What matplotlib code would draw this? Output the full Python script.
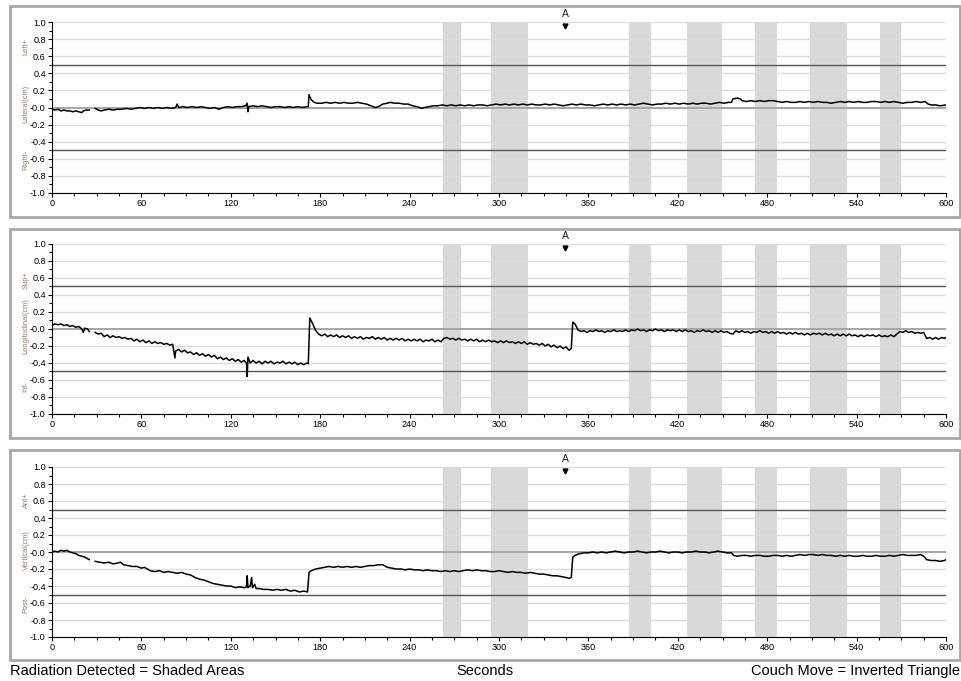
import numpy as np
import matplotlib
matplotlib.use("Agg")
import matplotlib.pyplot as plt
from matplotlib.patches import Rectangle
from matplotlib.ticker import MultipleLocator
from matplotlib.transforms import blended_transform_factory

plt.rcParams['font.family'] = ['Liberation Sans', 'DejaVu Sans']

nan = np.nan

# radiation on (shaded areas), seconds
beam_on = [(262.5, 274.5), (294.5, 319.5), (387, 402), (426, 449.5),
           (472, 486.5), (508.5, 533.5), (555.5, 570)]
couch_moves = [(344.3, "A")]

# ---- Lateral (cm)
lat_t = [0, 2, 4, 6, 8, 10, 12, 14, 16, 18, 20, 21, 23, 25, 26,
         29, 31, 33, 35, 38, 41, 44, 47, 50, 53, 56, 59, 62, 65, 68, 71, 74, 77, 80, 83, 84, 85,
         88, 91, 94, 97, 100, 103, 106, 109, 112, 115, 118, 121, 124, 127, 130, 131, 131.5, 132,
         135, 138, 141, 144, 147, 150, 153, 156, 159, 162, 165, 168, 171, 172, 172.5, 174, 176, 178,
         181, 184, 187, 190, 193, 196, 199, 202, 205, 208, 211, 214, 217, 219, 222, 225, 227, 230,
         233, 236, 239, 242, 245, 248, 250, 253, 256, 259, 262, 265, 268, 271, 274, 277, 280, 283,
         286, 289, 292, 295, 298, 301, 304, 307, 310, 313, 316, 319, 322, 325, 328, 331, 334, 337,
         340, 343, 346, 349, 352, 355, 358, 361, 364, 367, 370, 373, 376, 379, 382, 385, 388, 391,
         394, 397, 400, 403, 406, 409, 412, 415, 418, 421, 424, 427, 430, 433, 436, 439, 442, 445,
         448, 451, 454, 456, 457, 460, 462, 463, 466, 469, 472, 475, 478, 481, 484, 487, 490, 493,
         496, 499, 502, 505, 508, 511, 514, 517, 520, 523, 526, 529, 532, 535, 538, 541, 544, 547,
         550, 553, 556, 559, 562, 565, 568, 571, 574, 577, 580, 583, 586, 588, 590, 593, 596, 600]
lat_v = [-0.02, -0.03, -0.02, -0.04, -0.03, -0.04, -0.04, -0.05, -0.04, -0.05, -0.06, -0.04, -0.03, -0.03, nan,
         -0.01, -0.03, -0.04, -0.03, -0.02, -0.03, -0.02, -0.02, -0.01, -0.02, -0.01, 0.00, -0.01, 0.00, -0.01, 0.00, -0.01, 0.00, -0.01, 0.00, 0.04, 0.00,
         0.01, 0.00, 0.01, 0.00, 0.01, 0.00, -0.01, 0.00, -0.02, 0.00, 0.01, 0.00, 0.01, 0.01, 0.02, 0.05, -0.05, 0.01,
         0.02, 0.01, 0.02, 0.01, 0.00, 0.01, 0.01, 0.00, 0.01, 0.00, 0.01, 0.00, 0.01, 0.01, 0.15, 0.09, 0.06, 0.05,
         0.05, 0.06, 0.05, 0.06, 0.05, 0.06, 0.05, 0.05, 0.06, 0.05, 0.04, 0.02, 0.00, 0.01, 0.04, 0.05, 0.06, 0.05,
         0.05, 0.04, 0.04, 0.02, 0.01, -0.01, 0.00, 0.01, 0.02, 0.02, 0.03, 0.02, 0.03, 0.02, 0.03, 0.02, 0.03, 0.02,
         0.03, 0.03, 0.02, 0.03, 0.04, 0.03, 0.04, 0.03, 0.04, 0.03, 0.04, 0.03, 0.04, 0.03, 0.03, 0.04, 0.03, 0.04,
         0.03, 0.02, 0.03, 0.04, 0.03, 0.04, 0.03, 0.03, 0.02, 0.03, 0.04, 0.03, 0.04, 0.03, 0.04, 0.03, 0.04, 0.03,
         0.04, 0.05, 0.04, 0.03, 0.04, 0.04, 0.05, 0.04, 0.05, 0.04, 0.05, 0.04, 0.05, 0.04, 0.05, 0.05, 0.04, 0.05,
         0.06, 0.05, 0.06, 0.06, 0.10, 0.11, 0.10, 0.08, 0.07, 0.08, 0.07, 0.08, 0.07, 0.08, 0.08, 0.07, 0.06, 0.07,
         0.06, 0.06, 0.07, 0.06, 0.07, 0.06, 0.07, 0.06, 0.06, 0.05, 0.06, 0.07, 0.06, 0.07, 0.06, 0.07, 0.06, 0.06,
         0.07, 0.07, 0.06, 0.07, 0.06, 0.07, 0.06, 0.05, 0.06, 0.06, 0.07, 0.06, 0.07, 0.04, 0.03, 0.03, 0.02, 0.03]

# ---- Longitudinal (cm)
lng_t = [0, 2, 4, 6, 8, 10, 12, 14, 16, 18, 20, 21, 22, 24, 25, 26,
         29, 31, 33, 35, 37, 39, 41, 43, 45, 47, 49, 51, 53, 55, 57, 59, 61, 63, 65, 67, 69, 71,
         73, 75, 77, 79, 81, 82.5, 83, 85, 87, 89, 91, 93, 95, 97, 99, 101, 103, 105, 107, 109,
         111, 113, 115, 117, 119, 121, 123, 125, 127, 129, 130.5, 131, 131.5, 133, 135, 137, 139,
         141, 143, 145, 147, 149, 151, 153, 155, 157, 159, 161, 163, 165, 167, 169, 171, 172, 173,
         175, 177, 179, 181, 183, 185, 187, 189, 191, 193, 195, 197, 199, 201, 203, 205, 207, 209,
         211, 213, 215, 217, 219, 221, 223, 225, 227, 229, 231, 233, 235, 237, 239, 241, 243, 245,
         247, 249, 251, 253, 255, 257, 259, 261, 263, 265, 267, 269, 271, 273, 275, 277, 279, 281,
         283, 285, 287, 289, 291, 293, 295, 297, 299, 301, 303, 305, 307, 309, 311, 313, 315, 317,
         319, 321, 323, 325, 327, 329, 331, 333, 335, 337, 339, 341, 343, 345, 347, 348.5, 349.5,
         351, 353, 355, 357, 359, 361, 363, 365, 367, 369, 371, 373, 375, 377, 379, 381, 383, 385,
         387, 389, 391, 393, 395, 397, 399, 401, 403, 405, 407, 409, 411, 413, 415, 417, 419, 421,
         423, 425, 427, 429, 431, 433, 435, 437, 439, 441, 443, 445, 447, 449, 451, 453, 455, 457,
         459, 461, 463, 465, 467, 469, 471, 473, 475, 477, 479, 481, 483, 485, 487, 489, 491, 493,
         495, 497, 499, 501, 503, 505, 507, 509, 511, 513, 515, 517, 519, 521, 523, 525, 527, 529,
         531, 533, 535, 537, 539, 541, 543, 545, 547, 549, 551, 553, 555, 557, 559, 561, 563, 565,
         567, 569, 571, 573, 575, 577, 579, 581, 583, 585, 587, 589, 591, 593, 595, 597, 599, 600]
lng_v = [0.04, 0.06, 0.05, 0.06, 0.04, 0.05, 0.03, 0.04, 0.02, 0.03, 0.00, -0.04, 0.01, 0.00, -0.03, nan,
         -0.04, -0.06, -0.05, -0.09, -0.07, -0.10, -0.08, -0.10, -0.09, -0.11, -0.10, -0.12, -0.11, -0.14, -0.12, -0.15, -0.13, -0.16, -0.14, -0.17, -0.15, -0.17,
         -0.16, -0.18, -0.17, -0.19, -0.18, -0.34, -0.26, -0.24, -0.27, -0.25, -0.28, -0.27, -0.30, -0.28, -0.31, -0.29, -0.32, -0.30, -0.33, -0.31,
         -0.35, -0.33, -0.36, -0.34, -0.37, -0.35, -0.38, -0.36, -0.39, -0.37, -0.40, -0.56, -0.33, -0.40, -0.37, -0.40, -0.38,
         -0.41, -0.38, -0.40, -0.38, -0.41, -0.39, -0.40, -0.38, -0.41, -0.39, -0.41, -0.39, -0.42, -0.40, -0.42, -0.40, -0.41, 0.13,
         0.06, -0.02, -0.06, -0.08, -0.06, -0.09, -0.07, -0.09, -0.07, -0.10, -0.08, -0.10, -0.08, -0.11, -0.09, -0.11, -0.09, -0.12,
         -0.10, -0.11, -0.09, -0.12, -0.10, -0.12, -0.10, -0.13, -0.11, -0.13, -0.11, -0.13, -0.11, -0.14, -0.12, -0.14, -0.12, -0.14,
         -0.12, -0.15, -0.13, -0.14, -0.12, -0.15, -0.13, -0.15, -0.11, -0.10, -0.12, -0.11, -0.13, -0.11, -0.13, -0.12, -0.14, -0.12,
         -0.14, -0.12, -0.15, -0.13, -0.15, -0.13, -0.15, -0.14, -0.16, -0.14, -0.16, -0.14, -0.16, -0.15, -0.17, -0.15, -0.17, -0.15,
         -0.18, -0.16, -0.18, -0.17, -0.19, -0.17, -0.20, -0.18, -0.21, -0.19, -0.22, -0.20, -0.23, -0.21, -0.25, -0.23, 0.08,
         0.06, -0.01, -0.03, -0.02, -0.04, -0.02, -0.03, -0.01, -0.03, -0.02, -0.04, -0.02, -0.03, -0.01, -0.03, -0.02, -0.03, -0.01,
         -0.03, -0.01, -0.02, 0.00, -0.02, -0.01, -0.03, -0.01, -0.02, 0.00, -0.02, -0.01, -0.03, -0.01, -0.02, -0.01, -0.03, -0.01,
         -0.03, -0.01, -0.03, -0.02, -0.04, -0.02, -0.03, -0.01, -0.03, -0.02, -0.04, -0.02, -0.04, -0.02, -0.04, -0.03, -0.05, -0.06,
         -0.02, -0.04, -0.02, -0.04, -0.03, -0.05, -0.03, -0.04, -0.02, -0.04, -0.03, -0.05, -0.03, -0.05, -0.03, -0.05, -0.04, -0.06,
         -0.04, -0.06, -0.04, -0.06, -0.05, -0.07, -0.05, -0.07, -0.05, -0.06, -0.05, -0.07, -0.05, -0.07, -0.06, -0.08, -0.06, -0.08,
         -0.06, -0.08, -0.06, -0.08, -0.07, -0.09, -0.07, -0.09, -0.07, -0.08, -0.07, -0.09, -0.07, -0.09, -0.08, -0.09, -0.07, -0.09,
         -0.06, -0.03, -0.04, -0.02, -0.04, -0.03, -0.05, -0.04, -0.05, -0.04, -0.11, -0.10, -0.12, -0.10, -0.12, -0.10, -0.11, -0.10]

# ---- Vertical (cm)
vrt_t = [0, 2, 4, 6, 8, 10, 12, 14, 16, 18, 20, 22, 24, 25, 26,
         29, 32, 35, 38, 41, 44, 46, 48, 51, 54, 57, 60, 62, 64, 66, 69, 72, 75, 78, 81, 84, 87,
         90, 93, 96, 99, 102, 105, 108, 111, 114, 117, 120, 123, 126, 129, 130.5, 131, 131.5, 133,
         134, 134.5, 136, 137, 139, 142, 145, 148, 151, 154, 157, 160, 163, 166, 169, 171.5, 172.5,
         174, 177, 180, 183, 186, 189, 192, 195, 198, 201, 204, 207, 210, 213, 216, 219, 222, 225,
         228, 231, 234, 237, 240, 243, 246, 249, 252, 255, 258, 261, 264, 267, 270, 273, 276, 279,
         282, 285, 288, 291, 294, 297, 300, 303, 306, 309, 312, 315, 318, 321, 324, 327, 330, 333,
         336, 339, 342, 345, 347, 348.5, 349.5, 351, 354, 357, 360, 363, 366, 369, 372, 375, 378,
         381, 384, 387, 390, 393, 396, 399, 402, 405, 408, 411, 414, 417, 420, 423, 426, 429, 432,
         435, 438, 441, 444, 447, 450, 453, 456, 457.5, 460, 463, 466, 469, 472, 475, 478, 481, 484,
         487, 490, 493, 496, 499, 502, 505, 508, 511, 514, 517, 520, 523, 526, 529, 532, 535, 538,
         541, 544, 547, 550, 553, 556, 559, 562, 565, 568, 571, 574, 577, 580, 583, 585, 587, 590,
         593, 596, 599, 600]
vrt_v = [0.00, 0.01, 0.00, 0.02, 0.01, 0.02, 0.00, -0.01, -0.02, -0.04, -0.05, -0.06, -0.08, -0.09, nan,
         -0.11, -0.12, -0.13, -0.12, -0.14, -0.13, -0.12, -0.15, -0.16, -0.17, -0.17, -0.19, -0.18, -0.20, -0.22, -0.23, -0.22, -0.24, -0.23, -0.24, -0.25, -0.24,
         -0.26, -0.27, -0.30, -0.32, -0.33, -0.35, -0.37, -0.38, -0.39, -0.40, -0.40, -0.42, -0.41, -0.42, -0.41, -0.28, -0.42, -0.40,
         -0.30, -0.42, -0.38, -0.43, -0.43, -0.44, -0.44, -0.45, -0.44, -0.45, -0.44, -0.46, -0.45, -0.47, -0.46, -0.47, -0.24,
         -0.22, -0.20, -0.19, -0.18, -0.17, -0.18, -0.17, -0.18, -0.17, -0.18, -0.17, -0.18, -0.17, -0.16, -0.16, -0.15, -0.15, -0.18,
         -0.19, -0.20, -0.20, -0.21, -0.20, -0.21, -0.21, -0.22, -0.21, -0.22, -0.22, -0.23, -0.22, -0.23, -0.22, -0.23, -0.22, -0.21,
         -0.22, -0.21, -0.22, -0.22, -0.23, -0.23, -0.22, -0.23, -0.24, -0.23, -0.24, -0.24, -0.25, -0.24, -0.25, -0.26, -0.26, -0.27,
         -0.28, -0.28, -0.29, -0.30, -0.31, -0.30, -0.06, -0.04, -0.02, -0.01, -0.01, 0.00, -0.01, 0.00, -0.01, 0.00, 0.01,
         0.00, -0.01, 0.00, 0.00, 0.01, 0.00, -0.01, 0.00, 0.00, 0.01, 0.00, -0.01, 0.00, 0.00, -0.01, 0.00, 0.00, 0.01,
         0.00, 0.00, -0.01, 0.00, 0.01, 0.00, -0.01, -0.01, -0.04, -0.05, -0.04, -0.04, -0.05, -0.04, -0.04, -0.05, -0.05, -0.04,
         -0.04, -0.05, -0.04, -0.05, -0.04, -0.03, -0.04, -0.03, -0.03, -0.04, -0.03, -0.04, -0.04, -0.05, -0.04, -0.05, -0.04, -0.05,
         -0.05, -0.04, -0.05, -0.05, -0.04, -0.05, -0.05, -0.04, -0.05, -0.04, -0.03, -0.04, -0.04, -0.04, -0.03, -0.05, -0.09, -0.10,
         -0.10, -0.11, -0.10, -0.09]

# name, plus side, minus side, and where each label is centred (cm)
panels = [
    (lat_t, lat_v, ("Lateral(cm)", 0.04), ("Left+", 0.71), ("Right-", -0.61)),
    (lng_t, lng_v, ("Longitudinal(cm)", 0.04), ("Sup+", 0.58), ("Inf-", -0.68)),
    (vrt_t, vrt_v, ("Vertical(cm)", 0.02), ("Ant+", 0.61), ("Post-", -0.61)),
]

W, H = 961, 681
fig = plt.figure(figsize=(W / 100, H / 100), dpi=100)

# pixel geometry of each panel: (box top, box bottom, axes top, axes bottom)
geom = [(6, 217, 22, 193), (229, 438, 244, 414), (450, 660, 467, 637)]
ax_left, ax_right = 52, 946
label_col = "#9a7a5c"
yvals = np.round(np.arange(-1.0, 1.01, 0.2), 1)

for (t, v, name, plus, minus), (bt, bb, at, ab) in zip(panels, geom):
    fig.patches.append(Rectangle((10 / W, 1 - bb / H), 950 / W, (bb - bt) / H,
                                 transform=fig.transFigure, fill=False,
                                 edgecolor="#a8a8a8", lw=2))
    ax = fig.add_axes([ax_left / W, 1 - ab / H, (ax_right - ax_left) / W, (ab - at) / H])
    ax.set_xlim(0, 600)
    ax.set_ylim(-1, 1)
    for a, b in beam_on:
        ax.axvspan(a, b, color="#d9d9d9", lw=0, zorder=0)
    for yy in yvals:
        ax.axhline(yy, color="#dcdcdc", lw=1, zorder=1)
    ax.axhline(0, color="#a6a6a6", lw=1.4, zorder=1)
    ax.axhline(0.5, color="#555555", lw=1, zorder=1)
    ax.axhline(-0.5, color="#555555", lw=1, zorder=1)
    ax.plot(t, v, color="black", lw=1.1, zorder=3)

    for spine in ["top", "right"]:
        ax.spines[spine].set_visible(False)
    ax.spines["left"].set_linewidth(0.8)
    ax.spines["bottom"].set_linewidth(0.8)
    ax.xaxis.set_major_locator(MultipleLocator(60))
    ax.xaxis.set_minor_locator(MultipleLocator(15))
    ax.yaxis.set_minor_locator(MultipleLocator(0.1))
    ax.set_yticks(yvals)
    ax.set_yticklabels([f"{x:.1f}" for x in yvals])
    ax.tick_params(which="major", length=3, width=0.8, labelsize=6.6, pad=1.5)
    ax.tick_params(which="minor", length=2, width=0.8)

    ytr = blended_transform_factory(ax.transAxes, ax.transData)
    for txt, yc in (name, plus, minus):
        ax.text(-26 / 894, yc, txt, transform=ytr, rotation=90, ha="center", va="center",
                fontsize=5.4, color=label_col)

    tr = blended_transform_factory(ax.transData, ax.transAxes)
    for xm, lab in couch_moves:
        ax.plot([xm], [0.975], marker="v", color="black", ms=3.5, transform=tr, clip_on=False, zorder=4)
        ax.text(xm, 1.045, lab, transform=tr, ha="center", va="center", fontsize=7.5,
                color="#1a1a40")

fig.text(10 / W, 1 - 671 / H, "Radiation Detected = Shaded Areas", ha="left", va="center", fontsize=10.5)
fig.text(485 / W, 1 - 671 / H, "Seconds", ha="center", va="center", fontsize=10.5)
fig.text(960 / W, 1 - 671 / H, "Couch Move = Inverted Triangle", ha="right", va="center", fontsize=10.5)

fig.savefig("out.png", dpi=100)
